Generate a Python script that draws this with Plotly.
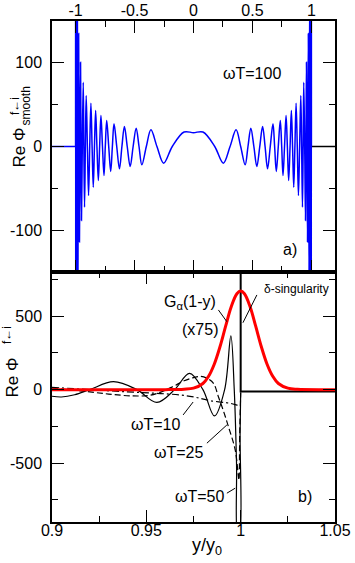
import plotly.graph_objects as go

# ---------------- panel a) : Re Phi_smooth, omega T = 100 (left half, curve is symmetric) -------------
a_x_half = [-1.0, -0.9995, -0.999, -0.9985, -0.998, -0.997, -0.996, -0.995, -0.9935, -0.992, -0.9905,
            -0.989, -0.987, -0.985, -0.9825, -0.980, -0.977, -0.974, -0.9705, -0.967, -0.963, -0.958,
            -0.954, -0.950, -0.943, -0.935, -0.930, -0.924, -0.917, -0.910, -0.900, -0.890, -0.880,
            -0.870, -0.860, -0.850, -0.840, -0.830, -0.819, -0.807, -0.796, -0.785, -0.772, -0.759,
            -0.748, -0.736, -0.719, -0.702, -0.688, -0.674, -0.651, -0.628, -0.607, -0.586, -0.562,
            -0.537, -0.512, -0.486, -0.462, -0.438, -0.400, -0.361, -0.310, -0.253, -0.180, -0.080, 0.0]
a_y_half = [0, 360, 0, -330, 0, 300, 0, -270, 0, 240, 0,
            -210, 0, 185, 0, -160, 0, 135, 0, -114, 0, 100.7,
            0, -88.4, 0, 76.8, 0, -72.5, 0, 61, 0, -58.5, 0,
            51.8, 0, -48.6, 0, 43, 0, -40.6, 0, 37, 0, -34.7,
            0, 31, 0, -29.9, 0, 27.1, 0, -26.7, 0, 23.9, 0,
            -23.9, 0, 21.9, 0, -21.9, 0, 19.9, 0, -19.9, 0, 17.3, 16.5]
assert len(a_x_half) == len(a_y_half)
a_flat_left_x = [-1.2, -1.0]
a_flat_left_y = [0, 0]
a_flat_right_x = [1.0, 1.2]
a_flat_right_y = [0, 0]

a_xtick_vals = [-1, -0.5, 0, 0.5, 1]
a_xtick_text = ["-1", "-0.5", "0", "0.5", "1"]
a_xminor = [-0.75, -0.25, 0.25, 0.75]
a_ytick_vals = [-100, 0, 100]
a_ytick_text = ["-100", "0", "100"]
a_yminor = [-50, 50]

# ---------------- panel b) ----------------
b_x_wt10 = [0.9, 0.92, 0.94, 0.955, 0.968, 0.976, 0.984, 0.9944, 0.998, 1.0]
b_y_wt10 = [16, 0, -15, -25, -36, -52, -75, -93, -105, -112]

b_x_wt25 = [0.9, 0.915, 0.93, 0.943, 0.952, 0.958, 0.964, 0.970, 0.975, 0.9785, 0.982, 0.9856,
            0.9882, 0.991, 0.9935, 0.9971, 0.9988, 0.9991, 0.9995, 1.0]
b_y_wt25 = [10, -8, -30, -43, -38, -15, 20, 60, 82, 90, 78, 43,
            -48, -150, -251, -410, -591, -615, -300, -20]

b_x_wt50 = [0.9, 0.905, 0.912, 0.92, 0.9326, 0.945, 0.9556, 0.965, 0.9729, 0.980, 0.9861, 0.9915,
            0.9948, 0.9966, 0.9978, 0.9985, 0.9993, 0.9997, 1.0]
b_y_wt50 = [-45, -50, -35, 0, 54, 0, -87, 0, 111, 0, -179, 0,
            365, 0, -500, -1000, -1000, -300, -20]

b_x_delta = [1.0, 1.0, 1.05]
b_y_delta = [900, -12, -12]

b_x_gauss = [0.90, 0.96, 0.97, 0.975, 0.98, 0.983, 0.986, 0.989, 0.992, 0.995, 0.998, 1.0,
             1.002, 1.005, 1.008, 1.011, 1.014, 1.017, 1.02, 1.025, 1.03, 1.05]
b_y_gauss = [0, 0, 3, 10, 42, 91, 173, 290, 430, 564, 652, 670,
             652, 564, 430, 290, 173, 91, 42, 10, 2, 0]

b_xtick_vals = [0.9, 0.95, 1.0, 1.05]
b_xtick_text = ["0.9", "0.95", "1", "1.05"]
b_xminor = [0.925, 0.975, 1.025]
b_ytick_vals = [-500, 0, 500]
b_ytick_text = ["-500", "0", "500"]
b_yminor = [-750, -250, 250, 750]

# ---------------- figure ----------------
FONT = "Liberation Sans, Arial, sans-serif"
W, H = 355, 563
L, R, T, B = 52, 20, 21, 41
PW, PH = W - L - R, H - T - B


def pxx(x):
    return (x - L) / PW


def pxy(y):
    return (H - B - y) / PH


split = (H - B - 272) / PH

fig = go.Figure()

a_x = a_x_half + [-v for v in reversed(a_x_half[:-1])]
a_y = a_y_half + list(reversed(a_y_half[:-1]))

fig.add_trace(go.Scatter(x=a_flat_left_x, y=a_flat_left_y, mode="lines",
                         line=dict(color="#0000ff", width=1.5), xaxis="x", yaxis="y"))
fig.add_trace(go.Scatter(x=a_flat_right_x, y=a_flat_right_y, mode="lines",
                         line=dict(color="black", width=1.5), xaxis="x", yaxis="y"))
fig.add_trace(go.Scatter(x=a_x, y=a_y, mode="lines",
                         line=dict(color="#0000ff", width=1.5, shape="spline", smoothing=1),
                         xaxis="x", yaxis="y"))

fig.add_trace(go.Scatter(x=b_x_wt10, y=b_y_wt10, mode="lines",
                         line=dict(color="black", width=1.2, dash="7px,3px,2px,3px",
                                   shape="spline", smoothing=1), xaxis="x2", yaxis="y2"))
fig.add_trace(go.Scatter(x=b_x_wt25, y=b_y_wt25, mode="lines",
                         line=dict(color="black", width=1.2, dash="6px,3px",
                                   shape="spline", smoothing=1), xaxis="x2", yaxis="y2"))
fig.add_trace(go.Scatter(x=b_x_wt50, y=b_y_wt50, mode="lines",
                         line=dict(color="black", width=1.2, shape="spline", smoothing=1),
                         xaxis="x2", yaxis="y2"))
fig.add_trace(go.Scatter(x=b_x_delta, y=b_y_delta, mode="lines",
                         line=dict(color="black", width=2), xaxis="x2", yaxis="y2"))
fig.add_trace(go.Scatter(x=b_x_gauss, y=b_y_gauss, mode="lines",
                         line=dict(color="#ff0000", width=3, shape="spline", smoothing=1),
                         xaxis="x2", yaxis="y2"))

axis_common = dict(showgrid=False, zeroline=False, showline=True, linecolor="black", linewidth=1.5,
                   mirror="allticks", ticks="inside", ticklen=12, tickwidth=1.3, tickcolor="black",
                   tickfont=dict(family=FONT, size=16, color="black"), tickmode="array",
                   automargin=False)


def minor(vals):
    return dict(tickmode="array", tickvals=vals, ticks="inside", ticklen=6,
                tickwidth=1.3, tickcolor="black")


fig.update_layout(
    width=W, height=H, margin=dict(l=L, r=R, t=T, b=B, autoexpand=False),
    paper_bgcolor="white", plot_bgcolor="white", showlegend=False,
    font=dict(family=FONT, size=16, color="black"),
    xaxis=dict(axis_common, range=[-1.2, 1.2], side="top", anchor="y",
               tickvals=a_xtick_vals, ticktext=a_xtick_text, minor=minor(a_xminor), ticklabelstandoff=-3),
    yaxis=dict(axis_common, range=[-150, 150], domain=[split, 1], anchor="x",
               tickvals=a_ytick_vals, ticktext=a_ytick_text, minor=minor(a_yminor), ticklabelstandoff=5),
    xaxis2=dict(axis_common, range=[0.9, 1.05], anchor="y2",
                tickvals=b_xtick_vals, ticktext=b_xtick_text, minor=minor(b_xminor), ticklabelstandoff=-7),
    yaxis2=dict(axis_common, range=[-900, 800], domain=[0, split], anchor="x2",
                tickvals=b_ytick_vals, ticktext=b_ytick_text, minor=minor(b_yminor), ticklabelstandoff=5),
)

ann = []


def txt(text, x, y, xref, yref, size=16, angle=0):
    ann.append(dict(text=text, x=x, y=y, xref=xref, yref=yref, showarrow=False,
                    xanchor="center", yanchor="middle", textangle=angle,
                    font=dict(family=FONT, size=size, color="black")))


# panel a texts
txt("ωT=100", 0.50, 87, "x", "y", 16)
txt("a)", 0.817, -123, "x", "y", 16)
txt("Re Φ", pxx(19), pxy(147.5), "paper", "paper", 17, -90)
txt("smooth", pxx(25.5), pxy(106), "paper", "paper", 12, -90)
txt("f←i", pxx(15.5), pxy(106.5), "paper", "paper", 12, -90)

# panel b texts
txt("Re Φ", pxx(11.5), pxy(378), "paper", "paper", 17, -90)
txt("f←i", pxx(7), pxy(335), "paper", "paper", 12, -90)
txt("G<sub>α</sub>(1-y)", 0.9733, 595, "x2", "y2", 16)
txt("(x75)", 0.9786, 406, "x2", "y2", 16)
txt("δ-singularity", 1.0295, 684, "x2", "y2", 12)
txt("ωT=10", 0.9553, -240, "x2", "y2", 16)
txt("ωT=25", 0.9673, -428, "x2", "y2", 16)
txt("ωT=50", 0.9786, -727, "x2", "y2", 16)
txt("b)", 1.0342, -727, "x2", "y2", 16)
txt("y/y<sub>0</sub>", pxx(207), pxy(546.7), "paper", "paper", 18)

fig.update_layout(annotations=ann)

# leader lines
leaders = [
    (0.9882, 542, 0.9927, 462),
    (1.0086, 644, 1.0012, 455),
    (0.9695, -172, 0.9748, -84),
    (0.9821, -364, 0.9927, -240),
    (0.9927, -704, 0.9971, -670),
]
for x0, y0, x1, y1 in leaders:
    fig.add_shape(type="line", x0=x0, y0=y0, x1=x1, y1=y1, xref="x2", yref="y2",
                  line=dict(color="black", width=1))

fig.write_html("out.html", config={"displayModeBar": False},
               post_script="document.body.style.margin='0';document.body.style.padding='0';")
